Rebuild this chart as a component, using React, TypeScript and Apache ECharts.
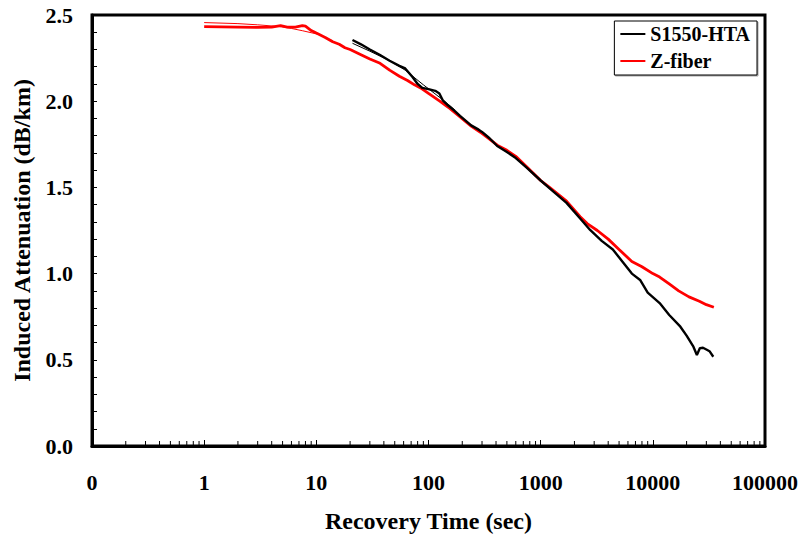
import React, { useEffect, useRef } from "react";
import * as echarts from "echarts";

const xTickLabels = ["0", "1", "10", "100", "1000", "10000", "100000"];

const blackName = "S1550-HTA";
const redName = "Z-fiber";

const blackT = [21, 25, 30, 37, 45, 55, 62, 72, 80, 88, 100, 115, 125, 134, 150, 170, 191, 240, 280, 300, 350, 410, 500, 600, 750, 1000, 1300, 1700, 2250, 2760, 3500, 4400, 5500, 6500, 7700, 9000, 11500, 14000, 17600, 20000, 23000, 24700, 26300, 28000, 30000, 32000, 34600];
const blackV = [2.355, 2.33, 2.3, 2.268, 2.235, 2.205, 2.19, 2.14, 2.1, 2.077, 2.07, 2.06, 2.045, 2.005, 1.975, 1.945, 1.915, 1.86, 1.835, 1.822, 1.785, 1.74, 1.705, 1.67, 1.615, 1.54, 1.475, 1.41, 1.32, 1.253, 1.19, 1.14, 1.06, 1.0, 0.963, 0.89, 0.829, 0.76, 0.692, 0.64, 0.576, 0.528, 0.568, 0.57, 0.56, 0.55, 0.518];

const redT = [1, 2, 3, 4, 4.8, 5.5, 6.5, 7.5, 8, 9, 10, 12, 14, 16, 18, 20, 25, 30, 37, 45, 55, 65, 75, 85, 100, 126, 150, 190, 240, 290, 350, 410, 500, 600, 750, 1000, 1200, 1700, 2250, 2600, 3200, 4000, 5000, 6500, 8000, 10000, 11500, 14000, 17000, 21000, 26000, 30000, 35000];
const redV = [2.432, 2.43, 2.428, 2.43, 2.438, 2.43, 2.43, 2.438, 2.435, 2.41, 2.395, 2.37, 2.345, 2.33, 2.31, 2.3, 2.27, 2.245, 2.22, 2.18, 2.145, 2.12, 2.095, 2.077, 2.045, 2.0, 1.965, 1.91, 1.855, 1.82, 1.78, 1.745, 1.715, 1.68, 1.62, 1.54, 1.5, 1.42, 1.33, 1.29, 1.25, 1.2, 1.14, 1.07, 1.04, 1.0, 0.98, 0.94, 0.9, 0.865, 0.84, 0.82, 0.805];

const redFitT = [1, 2, 3, 4.9, 6, 7.5, 10.4, 14];
const redFitV = [2.456, 2.45, 2.443, 2.432, 2.422, 2.409, 2.388, 2.35];

const blackFitT = [21, 30, 45, 62, 90, 130, 172];
const blackFitV = [2.336, 2.29, 2.235, 2.18, 2.095, 2.015, 1.949];

const decades = [0.1, 1, 10, 100, 1000, 10000];
const minorMultipliers = [2, 3, 4, 5, 6, 7, 8, 9];

const FONT = "'Liberation Serif', 'Times New Roman', serif";

function pairs(t: number[], v: number[]) {
  return t.map((x, i) => [x, v[i]]);
}

export default function App() {
  const ref = useRef<HTMLDivElement>(null);
  useEffect(() => {
    if (!ref.current) return;
    const chart = echarts.init(ref.current, undefined, { renderer: "svg" });
    const minorTicks: number[][] = [];
    decades.forEach((d) => minorMultipliers.forEach((m) => minorTicks.push([d * m, 0])));
    chart.setOption({
      animation: false,
      backgroundColor: "#fff",
      grid: {
        left: 92,
        right: 38,
        top: 15,
        bottom: 91,
        show: true,
        borderColor: "#000",
        borderWidth: 3,
        containLabel: false,
        outerBoundsMode: "none",
      },
      legend: {
        data: [blackName, redName],
        orient: "vertical",
        right: 46,
        top: 21,
        padding: [3, 7, 4, 6],
        itemGap: 7,
        itemWidth: 25,
        itemHeight: 2,
        itemGap2: 0,
        icon: "rect",
        borderColor: "#000",
        borderWidth: 1,
        borderRadius: 0,
        backgroundColor: "#fff",
        shadowColor: "rgba(0,0,0,0.35)",
        shadowOffsetX: 1,
        shadowOffsetY: 1,
        shadowBlur: 0,
        textStyle: { fontFamily: FONT, fontWeight: "bold", fontSize: 20, color: "#000", lineHeight: 20 },
      },
      xAxis: {
        type: "log",
        logBase: 10,
        min: 0.1,
        max: 100000,
        name: "Recovery Time (sec)",
        nameLocation: "middle",
        nameGap: 63,
        nameTextStyle: { fontFamily: FONT, fontWeight: "bold", fontSize: 24, color: "#000" },
        axisLine: { show: true, lineStyle: { color: "#000", width: 3 } },
        axisTick: { show: true, inside: true, length: 6, lineStyle: { color: "#000", width: 1 } },
        splitLine: { show: false },
        axisLabel: {
          margin: 25,
          fontFamily: FONT,
          fontWeight: "bold",
          fontSize: 22,
          color: "#000",
          formatter: (v: number) => {
            const idx = Math.round(Math.log10(v)) + 1;
            return xTickLabels[idx] ?? String(v);
          },
        },
      },
      yAxis: {
        type: "value",
        min: 0,
        max: 2.5,
        interval: 0.5,
        name: "Induced Attenuation (dB/km)",
        nameLocation: "middle",
        nameGap: 58,
        nameTextStyle: { fontFamily: FONT, fontWeight: "bold", fontSize: 24, color: "#000" },
        axisLine: { show: true, lineStyle: { color: "#000", width: 3 } },
        axisTick: { show: true, inside: true, length: 5, lineStyle: { color: "#000", width: 1 } },
        minorTick: { show: true, splitNumber: 5, length: 5, lineStyle: { color: "#000", width: 1 } },
        splitLine: { show: false },
        minorSplitLine: { show: false },
        axisLabel: {
          margin: 19,
          fontFamily: FONT,
          fontWeight: "bold",
          fontSize: 22,
          color: "#000",
          formatter: (v: number) => v.toFixed(1),
        },
      },
      series: [
        {
          name: "x minor ticks",
          type: "custom",
          silent: true,
          clip: false,
          data: minorTicks,
          renderItem: (params: any, api: any) => {
            const p = api.coord([api.value(0), 0]);
            return {
              type: "line",
              shape: { x1: p[0], y1: p[1], x2: p[0], y2: p[1] - 5 },
              style: { stroke: "#000", lineWidth: 1 },
            };
          },
        },
        {
          name: "Z-fiber fit",
          type: "line",
          data: pairs(redFitT, redFitV),
          symbol: "none",
          lineStyle: { color: "#ff0000", width: 1 },
          z: 3,
        },
        {
          name: redName,
          type: "line",
          data: pairs(redT, redV),
          symbol: "none",
          color: "#ff0000",
          lineStyle: { color: "#ff0000", width: 2.8 },
          z: 2,
        },
        {
          name: blackName,
          type: "line",
          data: pairs(blackT, blackV),
          symbol: "none",
          color: "#000",
          lineStyle: { color: "#000", width: 2.4 },
          z: 2,
        },
        {
          name: "S1550-HTA fit",
          type: "line",
          data: pairs(blackFitT, blackFitV),
          symbol: "none",
          lineStyle: { color: "#000", width: 1 },
          z: 3,
        },
      ],
    });
    return () => chart.dispose();
  }, []);
  return <div ref={ref} style={{ width: 803, height: 537, position: "absolute", left: 0, top: 0 }} />;
}
